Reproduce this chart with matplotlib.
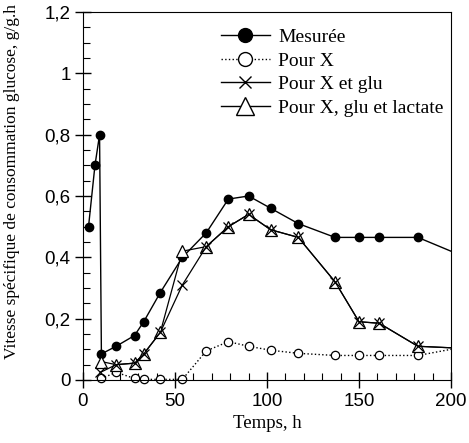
import numpy as np
import matplotlib
matplotlib.use('Agg')
import matplotlib.pyplot as plt
from matplotlib.lines import Line2D
from matplotlib.ticker import MultipleLocator

# donnees
t_mes = [3, 6.5, 9, 10, 18, 28, 33, 42, 54, 67, 79, 90, 102, 117, 137, 150, 161, 182, 200]
q_mes = [0.50, 0.70, 0.80, 0.085, 0.11, 0.145, 0.19, 0.285, 0.40, 0.48, 0.59, 0.60, 0.56, 0.51, 0.465, 0.465, 0.465, 0.465, 0.42]

t_x = [10, 18, 28, 33, 42, 54, 67, 79, 90, 102, 117, 137, 150, 161, 182, 200]
q_x = [0.005, 0.025, 0.005, 0.002, 0.002, 0.002, 0.095, 0.125, 0.11, 0.097, 0.087, 0.08, 0.08, 0.08, 0.08, 0.10]

t_glu = [9.5, 18, 28, 33, 42, 54, 67, 79, 90, 102, 117, 137, 150, 161, 182, 200]
q_glu = [0.025, 0.05, 0.055, 0.085, 0.155, 0.31, 0.435, 0.50, 0.54, 0.49, 0.465, 0.32, 0.19, 0.185, 0.11, 0.105]

t_lac = [10, 18, 28, 33, 42, 54, 67, 79, 90, 102, 117, 137, 150, 161, 182, 200]
q_lac = [0.06, 0.05, 0.055, 0.085, 0.155, 0.42, 0.435, 0.50, 0.54, 0.49, 0.465, 0.32, 0.19, 0.185, 0.11, 0.105]

xticks = [0, 50, 100, 150, 200]
yticks = [0, 0.2, 0.4, 0.6, 0.8, 1.0, 1.2]
yticklabels = ['0', '0,2', '0,4', '0,6', '0,8', '1', '1,2']
noms = ['Mesurée', 'Pour X', 'Pour X et glu', 'Pour X, glu et lactate']

serif = ['Liberation Serif', 'DejaVu Serif']
sans = ['Liberation Sans', 'DejaVu Sans']

fig = plt.figure(figsize=(4.69, 4.43), dpi=100)
ax = fig.add_axes([83/469, 1-380/443, 368/469, 368/443])

# courbes (le dernier point = bord droit, sans marqueur)
ax.plot(t_mes, q_mes, '-', color='k', lw=1, clip_on=False)
ax.plot(t_mes[:-1], q_mes[:-1], 'o', color='k', ms=6, clip_on=False)
ax.plot(t_x, q_x, ':', color='k', lw=1, clip_on=False)
ax.plot(t_x[:-1], q_x[:-1], 'o', mfc='white', mec='k', mew=0.9, ms=6, clip_on=False)
ax.plot(t_lac, q_lac, '-', color='k', lw=0.9, clip_on=False)
ax.plot(t_lac[:-1], q_lac[:-1], '^', mfc='white', mec='k', mew=0.9, ms=8, clip_on=False)
ax.plot(t_glu, q_glu, '-', color='k', lw=0.9, clip_on=False)
ax.plot(t_glu[:-1], q_glu[:-1], 'x', color='k', mew=0.9, ms=7, clip_on=False)

ax.set_xlim(0, 200)
ax.set_ylim(0, 1.2)
ax.set_xticks(xticks)
ax.set_yticks(yticks)
ax.set_yticklabels(yticklabels)
ax.xaxis.set_minor_locator(MultipleLocator(10))
ax.yaxis.set_minor_locator(MultipleLocator(0.05))
ax.tick_params(which='major', direction='inout', length=12, width=1, pad=3)
ax.tick_params(which='minor', direction='in', length=5, width=0.8)
for lab in ax.get_xticklabels() + ax.get_yticklabels():
    lab.set_family(sans)
    lab.set_fontsize(13.5)

ax.set_xlabel('Temps, h', family=serif, fontsize=13.5)
ax.xaxis.set_label_coords(0.5, -0.095)
ax.set_ylabel('Vitesse spécifique de consommation glucose, g/g.h', family=serif, fontsize=12.5)
ax.yaxis.set_label_coords(-0.17, 0.54)

h = [Line2D([], [], color='k', lw=1, marker='o', ms=10),
     Line2D([], [], color='k', lw=1, ls=':', marker='o', mfc='white', mec='k', ms=10),
     Line2D([], [], color='k', lw=1, marker='x', ms=8),
     Line2D([], [], color='k', lw=1, marker='^', mfc='white', mec='k', ms=13)]
ax.legend(handles=h, labels=noms, loc='upper left', bbox_to_anchor=(0.375, 0.955),
          frameon=False, prop={'family': serif, 'size': 14}, handlelength=2.5,
          handletextpad=0.45, labelspacing=0.3, borderpad=0, borderaxespad=0)

fig.savefig('out.png', dpi=100)
